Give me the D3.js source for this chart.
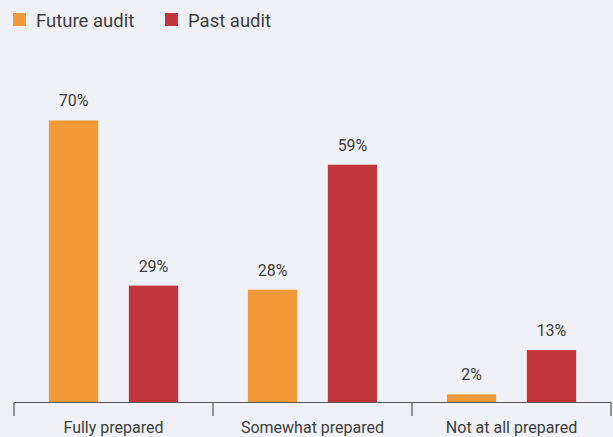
<!DOCTYPE html>
<html>
<head>
<meta charset="utf-8">
<script src="https://cdn.jsdelivr.net/npm/d3@7"></script>
<style>
  body { margin: 0; background: #f0f1f6; }
  svg text { font-family: Roboto, "Noto Sans", sans-serif; fill: #3d3d3d; }
</style>
</head>
<body>
<div id="chart"></div>
<script>
// set the dimensions of the graph
const width = 613
const height = 437

// data
const categories = ["Fully prepared", "Somewhat prepared", "Not at all prepared"];
const seriesNames = ["Future audit", "Past audit"];
const futureAudit = [70, 28, 2];
const pastAudit = [29, 59, 13];
const seriesColors = ["#f39a38", "#c1363d"];

const rows = categories.map((c, i) => ({ category: c, values: [futureAudit[i], pastAudit[i]] }));

const svg = d3.select("#chart")
    .append("svg")
    .attr("width", width)
    .attr("height", height)

// scales
const x = d3.scaleBand()
    .domain(categories)
    .range([14, 611])
    .padding(0)

const xInner = d3.scaleBand()
    .domain(seriesNames)
    .range([0, x.bandwidth()])
    .paddingInner(0.384)
    .paddingOuter(0.436)

const y = d3.scaleLinear()
    .domain([0, 100])
    .range([402.5, -0.5])

// bars
const group = svg.append("g")
    .selectAll("g")
    .data(rows)
    .join("g")
    .attr("transform", d => `translate(${x(d.category)},0)`)

group.selectAll("rect")
    .data(d => d.values.map((v, i) => ({ name: seriesNames[i], value: v, color: seriesColors[i] })))
    .join("rect")
    .attr("x", d => xInner(d.name))
    .attr("y", d => y(d.value))
    .attr("width", xInner.bandwidth())
    .attr("height", d => y(0) - y(d.value))
    .attr("fill", d => d.color)

// value labels
group.selectAll("text")
    .data(d => d.values.map((v, i) => ({ name: seriesNames[i], value: v })))
    .join("text")
    .attr("x", d => xInner(d.name) + xInner.bandwidth() / 2)
    .attr("y", d => y(d.value) - 14)
    .attr("text-anchor", "middle")
    .style("font-size", "16px")
    .text(d => d.value + "%")

// x axis with ticks at the band edges
const axis = svg.append("g")
    .attr("transform", `translate(0,${y(0)})`)

axis.append("line")
    .attr("x1", x.range()[0])
    .attr("x2", x.range()[1])
    .attr("stroke", "#555")
    .attr("stroke-width", 1.2)

const edges = categories.map(c => x(c)).concat([x.range()[1]]);
axis.selectAll(".edge")
    .data(edges)
    .join("line")
    .attr("class", "edge")
    .attr("x1", d => d)
    .attr("x2", d => d)
    .attr("y1", 0)
    .attr("y2", 13.5)
    .attr("stroke", "#555")
    .attr("stroke-width", 1.2)

axis.selectAll(".cat")
    .data(categories)
    .join("text")
    .attr("class", "cat")
    .attr("x", d => x(d) + x.bandwidth() / 2)
    .attr("y", 30.5)
    .attr("text-anchor", "middle")
    .style("font-size", "16px")
    .text(d => d)

// legend
const legend = svg.append("g")
    .selectAll("g")
    .data(seriesNames)
    .join("g")
    .attr("transform", (d, i) => `translate(${[13, 165][i]},13)`)

legend.append("rect")
    .attr("width", 13)
    .attr("height", 13)
    .attr("fill", (d, i) => seriesColors[i])

legend.append("text")
    .attr("x", 23)
    .attr("y", 13.5)
    .style("font-size", "18.5px")
    .text(d => d)
</script>
</body>
</html>
